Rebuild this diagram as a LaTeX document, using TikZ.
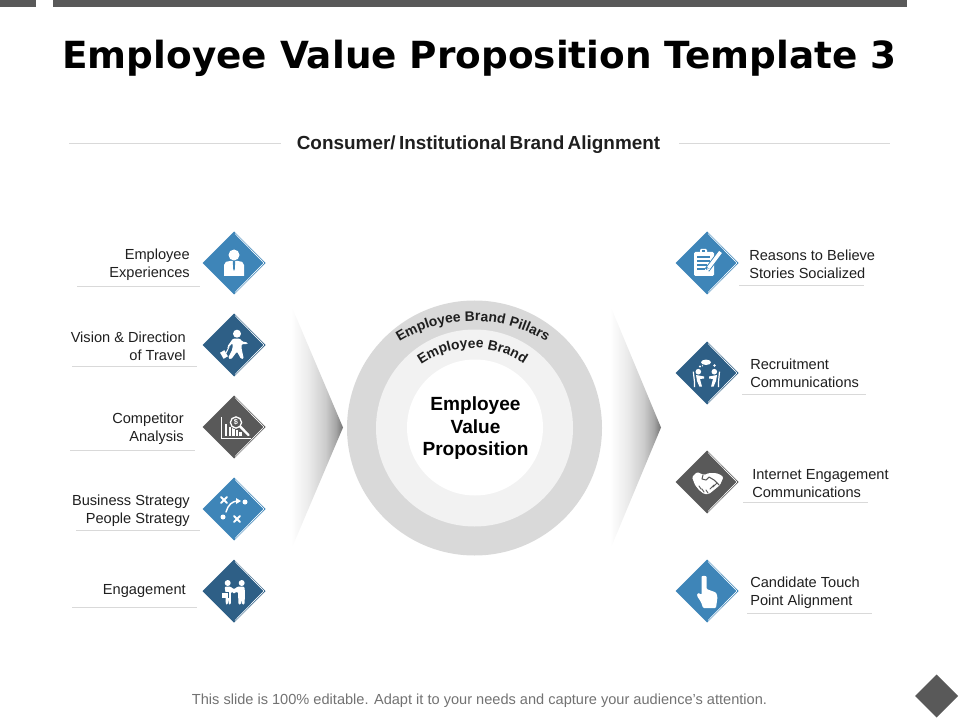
\documentclass[tikz,border=0pt]{standalone}
\usepackage{fontspec}
\setmainfont{Liberation Sans}
\newfontfamily\titlefont{DejaVu Sans}
\usetikzlibrary{decorations.text}
\definecolor{cblue}{HTML}{3E85B8}
\definecolor{cdark}{HTML}{2E5F86}
\definecolor{cgray}{HTML}{595959}
\definecolor{crule}{HTML}{D9D9D9}
\definecolor{cring}{HTML}{D9D9D9}
\definecolor{cmid}{HTML}{F2F2F2}
\definecolor{ctext}{HTML}{1F1F1F}
\pgfdeclarehorizontalshading{chev}{100bp}{color(0bp)=(white);color(25bp)=(white);color(42bp)=(white!92!black);color(58bp)=(white!80!black);color(68bp)=(white!65!black);color(75bp)=(white!45!black);color(100bp)=(white!45!black)}
\tikzset{
  lblr/.style={font=\fontsize{10.95}{13.5}\selectfont,text=ctext,inner sep=0pt,align=right,anchor=east},
  lbll/.style={font=\fontsize{10.95}{13.5}\selectfont,text=ctext,inner sep=0pt,align=left,anchor=west},
  under/.style={draw=crule,line width=.6pt},
  headrule/.style={draw=crule,line width=1pt},
  wl/.style={draw=white,line width=1.4pt,line cap=round,line join=round},
  wf/.style={fill=white,draw=none}
}
\newcommand{\diam}[4]{%
  \begin{scope}[shift={(#1,#2)}]
    \fill[#3] (0,-31.5) -- (31.5,0) -- (0,31.5) -- (-31.5,0) -- cycle;
    \draw[white,line width=.5pt] (1,-29.5) -- (29.5,-.5) -- (29.5,.5) -- (1,29.5);
    #4
  \end{scope}}
\begin{document}
\begin{tikzpicture}[x=.75pt,y=-.75pt]
\useasboundingbox (0,0) rectangle (960,720);
% top bars
\fill[cgray] (0,0) rectangle (36,7);
\fill[cgray] (53,0) rectangle (907,7);
\node[font=\titlefont\bfseries\fontsize{28.03}{32}\selectfont,text=black,inner sep=0pt] (title) at (479.5,58) {Employee Value Proposition Template 3};
% header
\draw[headrule] (69,143.5) -- (281,143.5);
\draw[headrule] (679,143.5) -- (890,143.5);
\node[font=\bfseries\fontsize{14.2}{16}\selectfont,text=ctext,inner sep=0pt] (head) at (478.5,145) {\spaceskip=2.5pt Consumer/ Institutional Brand Alignment};
% chevrons
\shade[shading=chev] (291,305) -- (343,427.5) -- (291,550) -- cycle;
\shade[shading=chev] (610,305) -- (661,427.5) -- (610,550) -- cycle;
% rings
\fill[cring] (474.5,428) circle (127.5);
\fill[cmid] (474.5,428) circle (98.5);
\fill[white] (475,427.5) circle (68);
\path[postaction={decorate,decoration={text along path,text align={align=center},text={|\bfseries\fontsize{10.4}{12}\selectfont\color{ctext}|Employee Brand Pillars}}}]
  (473,461) ++(-125:140) arc[start angle=-125,end angle=-55,radius=140];
\path[postaction={decorate,decoration={text along path,text align={align=center},text={|\bfseries\fontsize{10.4}{12}\selectfont\color{ctext}|Employee Brand}}}]
  (472.5,438) ++(-130:90) arc[start angle=-130,end angle=-50,radius=90];
\node[font=\bfseries\fontsize{14.3}{16.9}\selectfont,text=black,inner sep=0pt,align=center] (core) at (475.5,428.5) {Employee\\Value\\Proposition};
% left column
\diam{234}{263}{cblue}{
  \fill[white] (0,-8) circle (5.5);
  \fill[white] (-10,13) -- (-10,2) .. controls (-10,-1) and (-7,-2) .. (-4,-2) -- (4,-2) .. controls (7,-2) and (10,-1) .. (10,2) -- (10,13) -- cycle;
  \fill[cblue] (-1.2,-2) -- (1.2,-2) -- (.8,6) -- (0,8) -- (-.8,6) -- cycle;
}
\diam{234}{345}{cdark}{
  \fill[white] (3,-11.3) circle (4);
  \fill[white,rounded corners=1pt] (-1,-6.5) -- (6,-6.5) -- (8,-3.5) -- (13.7,-2.5) -- (13.5,-.8) -- (7.5,-1) -- (7.5,3) -- (9.8,14) -- (7,14) -- (3,6.5) -- (-3,14.5) -- (-6,13) -- (-1.5,4) -- (-1.5,-2) -- (-6,3) -- (-7,2) -- cycle;
  \draw[white,line width=.7pt] (-8,8) -- (-5,2);
  \fill[white,rotate around={30:(-10,9.5)}] (-12.5,6) rectangle (-7.5,13);
}
\diam{234}{427}{cgray}{
  \draw[white,line width=.6pt] (-13,-10) -- (-13,11) -- (17,11);
  \fill[white] (-9,-3) rectangle (-6.6,9);
  \fill[white] (-5.4,-.5) rectangle (-3,9);
  \fill[white] (-1.8,1) rectangle (.6,9);
  \fill[white] (1.8,3) rectangle (4.2,9);
  \fill[white] (5.4,5) rectangle (7.8,9);
  \fill[cgray] (2,-4.5) circle (6.7);
  \draw[white,line width=1pt] (2,-4.5) circle (5.6);
  \draw[white,line width=1.8pt,line cap=round] (6.3,-.3) -- (14.5,8);
  \node[font=\fontsize{5.5}{5.5}\selectfont\bfseries,text=white,inner sep=0pt] (dollar) at (2,-4.5) {\$};
}
\diam{234}{509}{cblue}{
  \draw[wl] (-13,-12) -- (-7,-6) (-13,-6) -- (-7,-12);
  \draw[wl] (0,7) -- (6,13) (0,13) -- (6,7);
  \fill[white] (11,-7) circle (2.5);
  \fill[white] (-11,8) circle (2.5);
  \draw[wl,line width=1.1pt] (-8,3) .. controls (-6,-4) and (-2,-8) .. (4,-8);
  \fill[white] (7,-8) -- (2,-11) -- (2,-5) -- cycle;
}
\diam{234}{591}{cdark}{
  \fill[white] (-6.3,-8) circle (3);
  \fill[white] (7.7,-8) circle (3);
  \fill[white,rounded corners=1pt] (-9.5,-4.5) -- (-3.5,-4.5) -- (0,-1.5) -- (3.5,-4.5) -- (10.5,-4.5) -- (11,3) -- (10.5,13.7) -- (8,13.7) -- (7.5,7) -- (7,13.7) -- (4.5,13.7) -- (4,.5) -- (.5,2) -- (-.5,2) -- (-3,.5) -- (-3.2,13.7) -- (-5.2,13.7) -- (-5.7,7) -- (-6.2,13.7) -- (-8.2,13.7) -- (-8.5,1) -- cycle;
  \fill[white] (-12.5,1) rectangle (-6,7);
  \draw[cdark,line width=.5pt] (-12.5,1) -- (-6,1) -- (-6,7);
}
% left labels
\node[lblr] (l1) at (190,264.5) {Employee\\Experiences};
\node[lblr] (l2) at (186,346.5) {Vision \& Direction\\of Travel};
\node[lblr] (l3) at (184,428.5) {Competitor\\Analysis};
\node[lblr] (l4) at (190,510.5) {Business Strategy\\People Strategy};
\node[lblr] (l5) at (186,591) {Engagement};
\draw[under] (77,286) -- (200,286);
\draw[under] (72,366) -- (197,366);
\draw[under] (70,450) -- (195,450);
\draw[under] (76,530) -- (200,530);
\draw[under] (72,607) -- (197,607);
% right column
\diam{707}{263}{cblue}{
  \fill[white,rounded corners=1pt] (-13,-11) rectangle (7,13);
  \fill[white,rounded corners=.8pt] (-7,-14) rectangle (0,-9);
  \fill[cblue] (-5,-13) rectangle (-2,-11);
  \draw[cblue,line width=.9pt] (-10,-6) -- (3,-6) (-10,-2) -- (3,-2) (-10,2) -- (0,2) (-10,6) -- (-2,6);
  \draw[cblue,line width=4pt] (13.5,-11) -- (0,7);
  \draw[white,line width=2.6pt] (13.5,-11) -- (1.5,5);
  \fill[white] (0,8.5) -- (.5,5) -- (3,6.5) -- cycle;
}
\diam{707}{373}{cdark}{
  \fill[white] (-8.7,-1.3) circle (2.8);
  \fill[white] (7.3,-1.3) circle (2.8);
  \fill[white] (-1,-10.7) ellipse (5 and 2.7);
  \fill[white] (-7,-6.5) circle (1.2) (-4.5,-7.2) circle (.7) (7.5,-7.5) circle (1.3);
  \fill[white] (-11,2) -- (-3,3.5) -- (-3,5.5) -- (-7,6) -- (-5,13.7) -- (-7.5,13.7) -- (-10,8) -- cycle;
  \fill[white] (10,2) -- (2,3.5) -- (2,5.5) -- (6,6) -- (4,13.7) -- (6.5,13.7) -- (9,8) -- cycle;
  \draw[white,line width=.9pt] (-13.7,-1.3) -- (-12.5,9) -- (-12.5,14);
  \draw[white,line width=.9pt] (12.5,-1.3) -- (11.5,9) -- (11.5,14);
}
\diam{707}{482}{cgray}{
  \fill[white,rounded corners=1pt] (-15,-5) -- (-10,-10) -- (-3,-7) -- (2,-9) -- (8,-9) -- (12,-8) -- (16.5,-5) -- (13,3) -- (7,8) -- (2,12) -- (-3,12) -- (-8,8) -- (-12,3) -- cycle;
  \draw[cgray,line width=.8pt,line cap=round,line join=round] (-4,-7) -- (-5,-3) -- (-1,-2) -- (2,-5) -- (7,-2) -- (12,3);
  \draw[cgray,line width=.7pt,line cap=round] (-8,4) -- (-6,7) (-5,7) -- (-3,10) (-1,8) -- (1,11) (7,3) -- (3,7) (10,1) -- (6,5);
}
\diam{707}{591}{cblue}{
  \fill[white,rounded corners=.8pt] (-5.5,-13) .. controls (-5.5,-15.5) and (-.5,-15.5) .. (-.5,-13) -- (-.5,-2) -- (9,1.5) -- (10.5,6) -- (9,17) -- (-4,17) -- (-6,11) -- (-10,5) -- (-9.5,2) -- (-7,2.5) -- (-5.5,4) -- cycle;
}
% right labels
\node[lbll] (r1) at (749,264) {Reasons to Believe\\Stories Socialized};
\node[lbll] (r2) at (750,373) {Recruitment\\Communications};
\node[lbll] (r3) at (752,483.5) {Internet Engagement\\Communications};
\node[lbll] (r4) at (750,592.5) {Candidate Touch\\Point Alignment};
\draw[under] (739,285) -- (864,285);
\draw[under] (742,394) -- (866,394);
\draw[under] (743,502) -- (868,502);
\draw[under] (747,613) -- (872,613);
% footer
\node[font=\fontsize{10.94}{13}\selectfont,text=cgray!85,inner sep=0pt] (foot) at (479.5,701) {This slide is 100\% editable. Adapt it to your needs and capture your audience's attention.};
\fill[cgray] (936.7,674.5) -- (958.2,696) -- (936.7,717.5) -- (915.2,696) -- cycle;
\end{tikzpicture}
\end{document}
